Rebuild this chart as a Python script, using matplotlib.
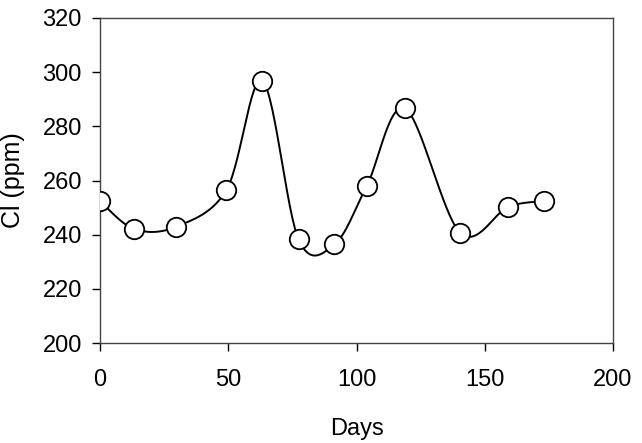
import numpy as np
import matplotlib
matplotlib.use("Agg")
import matplotlib.pyplot as plt

days = [0, 13.3, 29.6, 49.3, 63.3, 77.4, 91.4, 104.0, 118.9, 140.4, 159.2, 173.2]
cl_ppm = [252.4, 242.1, 242.9, 256.5, 296.7, 238.3, 236.4, 258.0, 286.6, 240.7, 250.3, 252.4]
x_ticks = [0, 50, 100, 150, 200]
y_ticks = [200, 220, 240, 260, 280, 300, 320]

plt.rcParams['font.family'] = ['Liberation Sans', 'DejaVu Sans']

fig = plt.figure(figsize=(6.42, 4.43), dpi=100)
ax = fig.add_axes([100/642, 1-343/443, 513/642, 325/443])
ax.set_xlim(0, 200)
ax.set_ylim(200, 320)

def smooth(xs, ys, n=30):
    # Excel-like Catmull-Rom bezier smoothing in display-normalized space
    sx, sy = 2.565, 2.71
    P = np.column_stack([np.array(xs) * sx, np.array(ys) * sy])
    out = []
    for i in range(len(P) - 1):
        p0 = P[i - 1] if i > 0 else P[i]
        p1 = P[i]
        p2 = P[i + 1]
        p3 = P[i + 2] if i + 2 < len(P) else P[i + 1]
        c1 = p1 + (p2 - p0) / 6
        c2 = p2 - (p3 - p1) / 6
        t = np.linspace(0, 1, n)[:, None]
        seg = ((1 - t) ** 3) * p1 + 3 * ((1 - t) ** 2) * t * c1 + 3 * (1 - t) * t ** 2 * c2 + t ** 3 * p2
        out.append(seg if i == 0 else seg[1:])
    S = np.vstack(out)
    return S[:, 0] / sx, S[:, 1] / sy

sx_, sy_ = smooth(days, cl_ppm)
ax.plot(sx_, sy_, color='black', lw=1.4, zorder=2)
ax.plot(days, cl_ppm, linestyle='none', marker='o', ms=14, mfc='white', mec='black', mew=1.3, zorder=3)

ax.set_xticks(x_ticks)
ax.set_yticks(y_ticks)
ax.tick_params(axis='both', direction='out', length=6, width=1, labelsize=17, colors='black')
ax.tick_params(axis='x', pad=13)
ax.tick_params(axis='y', pad=7)
for s in ax.spines.values():
    s.set_linewidth(1.0)
    s.set_color('#444444')
ax.set_xlabel('Days', fontsize=17)
ax.xaxis.set_label_coords(0.5, -0.232)
ax.set_ylabel('Cl (ppm)', fontsize=18, va='center')
ax.yaxis.set_label_coords((13 - 100) / 513, 0.5)

fig.savefig('out.png', dpi=100)
